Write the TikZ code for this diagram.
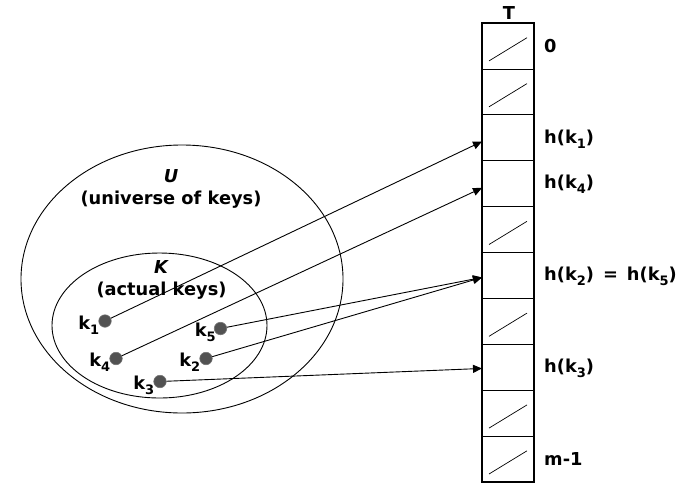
\documentclass[tikz,border=0pt]{standalone}
\usepackage{fontspec}
\setmainfont{DejaVu Sans}
\usetikzlibrary{arrows.meta,calc,shapes.geometric}
\newcommand\sbs[1]{\raisebox{-0.28em}{\fontsize{13}{13}\selectfont #1}}
\begin{document}
\begin{tikzpicture}[x=1pt,y=-1pt,
  txt/.style={font=\fontsize{17.8}{22}\selectfont\bfseries, inner sep=0pt},
  cell/.style={draw, line width=0.8pt, minimum width=52pt, minimum height=45.9pt, inner sep=0pt, outer sep=0pt},
  keydot/.style={circle, fill=black!68, draw=black!55, line width=0.6pt, minimum size=12.5pt, inner sep=0pt},
  arr/.style={line width=0.9pt, -{Triangle[length=9pt,width=8pt]}},
  slash/.style={line width=0.7pt},
  set/.style={draw, ellipse, line width=0.9pt, inner sep=0pt},
]
\useasboundingbox (0,0) rectangle (679,483);
% sets
\node[set, minimum width=322pt, minimum height=268pt] (U) at (182,279) {};
\node[set, minimum width=215pt, minimum height=145pt] (K) at (159.5,325.5) {};
\node[txt, align=center] (Ut) at (171,189) {\textit{U}\\(universe of keys)};
\node[txt, align=center] (Kt) at (161.5,279.5) {\textit{K}\\(actual keys)};
% table
\foreach \i in {0,...,9} \node[cell] (c\i) at (508,{23+45.9*(\i+0.5)}) {};
\foreach \i in {0,1,4,6,8,9} \draw[slash] ($(c\i.south west)+(7,-8)$) -- ($(c\i.north east)+(-7,14.7)$);
\draw[line width=2.5pt] (c0.north west) rectangle (c9.south east);
\node[txt] (T) at (509,13) {T};
\node[txt, anchor=west] (l0) at ($(c0.east)+(10,0)$) {0};
\node[txt, anchor=west] (l2) at ($(c2.east)+(10,1)$) {h(k\sbs{1})};
\node[txt, anchor=west] (l3) at ($(c3.east)+(10,1)$) {h(k\sbs{4})};
\node[txt, anchor=west] (l5) at ($(c5.east)+(10,1)$) {h(k\sbs{2})\hspace{9pt}=\hspace{9pt}h(k\sbs{5})};
\node[txt, anchor=west] (l7) at ($(c7.east)+(10,1)$) {h(k\sbs{3})};
\node[txt, anchor=west] (l9) at ($(c9.east)+(10,0)$) {m-1};
% keys
\node[keydot] (k1) at (105,321) {};
\node[keydot] (k5) at (220.5,328.5) {};
\node[keydot] (k4) at (116,358.5) {};
\node[keydot] (k2) at (206,358.5) {};
\node[keydot] (k3) at (160,381.5) {};
\node[txt, anchor=east] (k1l) at ($(k1.west)+(1,4)$) {k\sbs{1}};
\node[txt, anchor=east] (k5l) at ($(k5.west)+(2,4)$) {k\sbs{5}};
\node[txt, anchor=east] (k4l) at ($(k4.west)+(1,4)$) {k\sbs{4}};
\node[txt, anchor=east] (k2l) at ($(k2.west)+(1,4)$) {k\sbs{2}};
\node[txt, anchor=east] (k3l) at ($(k3.west)+(1,4)$) {k\sbs{3}};
% arrows
\draw[arr] (k1) -- ([yshift=-3.75pt]c2.west);
\draw[arr] (k4) -- ([yshift=-4.3pt]c3.west);
\draw[arr] (k5) -- ([yshift=-2pt]c5.west);
\draw[arr] (k2) -- ([yshift=-2pt]c5.west);
\draw[arr] (k3) -- ([yshift=-1.2pt]c7.west);
\end{tikzpicture}
\end{document}
